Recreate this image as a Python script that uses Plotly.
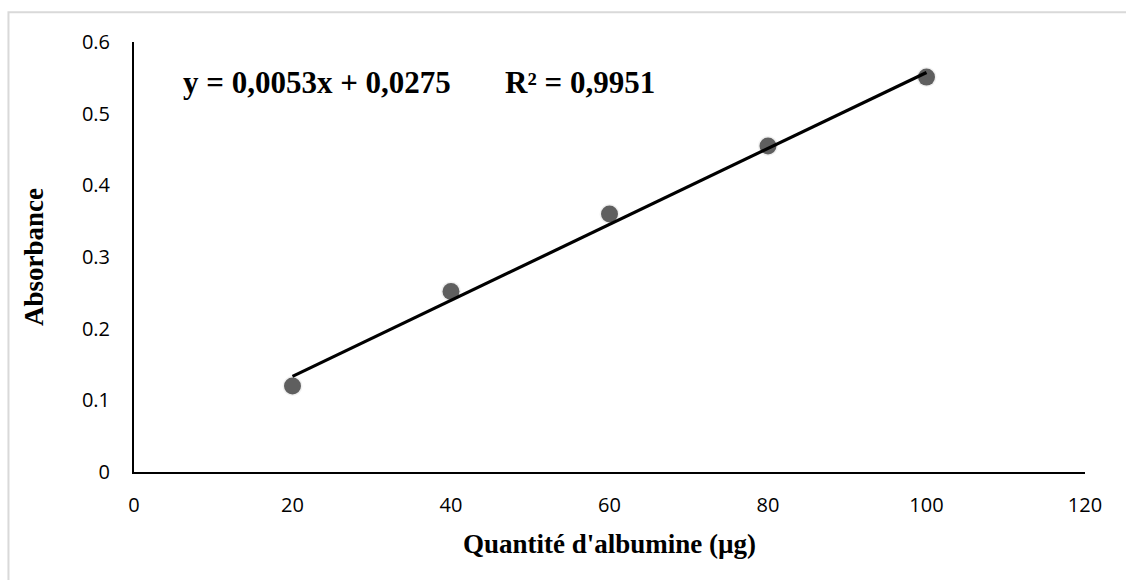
import plotly.graph_objects as go

# Calibration data: albumin amount (µg) vs absorbance
quantite = [20, 40, 60, 80, 100]
absorbance = [0.12, 0.252, 0.36, 0.455, 0.551]

# Linear regression shown on the chart
pente = 0.0053
ordonnee = 0.0275
r2 = 0.9951

x_ticks = [0, 20, 40, 60, 80, 100, 120]
y_ticks = [0, 0.1, 0.2, 0.3, 0.4, 0.5, 0.6]

x_fit = [min(quantite), max(quantite)]
y_fit = [pente * x + ordonnee for x in x_fit]


def fr(v):
    return str(v).replace(".", ",")


fig = go.Figure()

# soft shadow under the markers
fig.add_trace(go.Scatter(
    x=quantite, y=absorbance, mode="markers",
    marker=dict(size=20, color="rgba(0,0,0,0.06)", line=dict(width=0)),
    hoverinfo="skip", showlegend=False,
))
fig.add_trace(go.Scatter(
    x=quantite, y=absorbance, mode="markers",
    marker=dict(size=17, color="#5f5f5f", line=dict(width=0)),
    showlegend=False,
))
fig.add_trace(go.Scatter(
    x=x_fit, y=y_fit, mode="lines",
    line=dict(color="black", width=3.2),
    showlegend=False,
))

fig.add_annotation(
    xref="paper", yref="paper", x=0.049, y=0.905,
    xanchor="left", yanchor="middle", showarrow=False,
    text=f"y = {fr(pente)}x + {fr(ordonnee)}&nbsp;&nbsp;&nbsp;&nbsp;&nbsp;&nbsp;&nbsp;R² = {fr(r2)}",
    font=dict(family="Liberation Serif", size=31, color="black", weight="bold"),
)

# outer chart frame
fig.add_shape(
    type="rect", xref="paper", yref="paper",
    x0=-0.132, x1=1.06, y0=-0.28, y1=1.069,
    line=dict(color="#d9d9d9", width=2), fillcolor="rgba(0,0,0,0)", layer="below",
)

tick_font = dict(family="Open Sans", size=20, color="black")
title_font = dict(family="Liberation Serif", size=27, color="black", weight="bold")

fig.update_xaxes(
    range=[0, 120], tickvals=x_ticks, ticktext=[str(v) for v in x_ticks],
    showline=True, linecolor="black", linewidth=2, showgrid=False, zeroline=False,
    ticks="", tickfont=tick_font, ticklabelstandoff=14,
    title=dict(text="Quantité d'albumine (µg)", font=title_font, standoff=17),
)
fig.update_yaxes(
    range=[0, 0.6], tickvals=y_ticks, ticktext=[f"{v:g}" for v in y_ticks],
    showline=True, linecolor="black", linewidth=2, showgrid=False, zeroline=False,
    ticks="", tickfont=tick_font, ticklabelstandoff=18,
    title=dict(text="Absorbance", font=title_font, standoff=30),
)

fig.update_layout(
    width=1126, height=580,
    margin=dict(l=134, r=41, t=42, b=108),
    paper_bgcolor="white", plot_bgcolor="white",
)

fig.write_html("out.html")
